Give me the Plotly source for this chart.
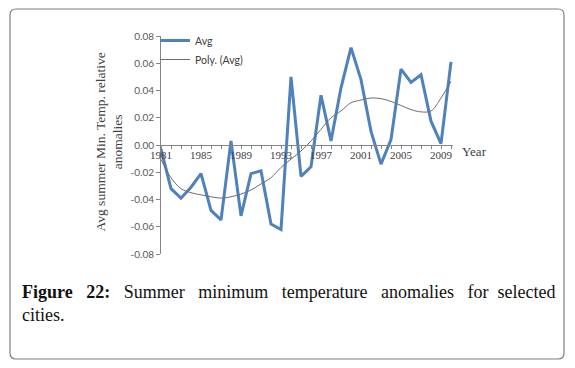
import plotly.graph_objects as go

years = list(range(1981, 2011))
avg = [-0.003, -0.032, -0.039, -0.031, -0.021, -0.048, -0.055, 0.003, -0.052, -0.021,
       -0.019, -0.058, -0.062, 0.050, -0.023, -0.016, 0.0365, 0.003, 0.042, 0.0715,
       0.048, 0.010, -0.014, 0.004, 0.0557, 0.046, 0.0516, 0.0175, 0.001, 0.061]
poly = [-0.0105, -0.024, -0.032, -0.035, -0.0366, -0.038, -0.039, -0.038, -0.036, -0.033,
        -0.0286, -0.024, -0.0165, -0.0104, -0.0044, 0.003, 0.0115, 0.020, 0.025, 0.031,
        0.033, 0.0345, 0.034, 0.032, 0.029, 0.026, 0.0243, 0.025, 0.0345, 0.0467]

y_ticks = [-0.08, -0.06, -0.04, -0.02, 0.00, 0.02, 0.04, 0.06, 0.08]
y_ticktext = ["-0.08", "-0.06", "-0.04", "-0.02", "0.00", "0.02", "0.04", "0.06", "0.08"]
x_ticks = [1981, 1985, 1989, 1993, 1997, 2001, 2005, 2009]
x_ticktext = [str(v) for v in x_ticks]

# page has an 8px body margin; figure is sized to fit the window
OFF = 8
W, H = 575 - OFF, 368 - OFF
L, R, T, B = 153, 122, 28, 114
PW = W - L - R
PH = H - T - B

def px(x):  # page pixel -> paper
    return (x - OFF - L) / PW

def py(y):  # page pixel -> paper
    return (H - B - (y - OFF)) / PH

fig = go.Figure()
fig.add_trace(go.Scatter(x=years, y=avg, mode="lines", name="Avg",
                         line=dict(color="#4f81bd", width=3)))
fig.add_trace(go.Scatter(x=years, y=poly, mode="lines", name="Poly. (Avg)",
                         line=dict(color="#6e6e6e", width=1, shape="spline")))

axis_col = "#868686"
fig.update_layout(
    width=W, height=H,
    margin=dict(l=L, r=R, t=T, b=B),
    paper_bgcolor="white", plot_bgcolor="white",
    showlegend=True,
    legend=dict(x=px(155), y=py(26), xanchor="left", yanchor="top",
                font=dict(family="Lato", size=10.5, color="#404040"),
                bgcolor="rgba(0,0,0,0)", itemwidth=30),
    xaxis=dict(range=[1981, 2010.2], showgrid=False, zeroline=False,
               showline=True, linecolor=axis_col, linewidth=1,
               anchor="free", position=0.5,
               tickvals=x_ticks, ticktext=x_ticktext,
               ticks="outside", ticklen=3, tickcolor=axis_col,
               ticklabelstandoff=-3,
               minor=dict(dtick=1, tick0=1981, ticks="outside", ticklen=3, tickcolor=axis_col),
               tickfont=dict(family="Liberation Serif", size=11, color="#404040")),
    yaxis=dict(range=[-0.08, 0.08], showgrid=False, zeroline=False,
               showline=True, linecolor=axis_col, linewidth=1,
               tickvals=y_ticks, ticktext=y_ticktext,
               ticks="outside", ticklen=4, tickcolor=axis_col,
               tickfont=dict(family="Lato", size=10, color="#595959")),
)

# Year label
fig.add_annotation(text="Year", xref="paper", yref="paper", x=px(460), y=py(151),
                   xanchor="left", yanchor="middle", showarrow=False,
                   font=dict(family="Liberation Serif", size=13, color="#404040"))
# Y axis title
fig.add_annotation(text="Avg summer Min. Temp. relative<br>anomalies", xref="paper", yref="paper",
                   x=px(108.5), y=py(142), xanchor="center", yanchor="middle", textangle=-90,
                   showarrow=False,
                   font=dict(family="Liberation Serif", size=13.5, color="#404040"))
# Caption (first line justified with extra non-breaking spaces)
g2 = " " + "\u00a0" * 2
g1 = " " + "\u00a0"
line1 = ("<b>Figure" + g2 + "22:</b>" + g2 + "Summer" + g2 + "minimum" + g2 + "temperature"
         + g2 + "anomalies" + g2 + "for" + g1 + "selected")
fig.add_annotation(text=line1 + "<br>cities.",
                   xref="paper", yref="paper", x=px(20), y=py(280), xanchor="left", yanchor="top",
                   align="left", showarrow=False,
                   font=dict(family="Liberation Serif", size=18, color="#111111"))

# Rounded border box
x0, x1, y0, y1, r = 10, 564, 9, 359, 6
def P(x, y):
    return f"{px(x):.5f},{py(y):.5f}"
path = (f"M {P(x0 + r, y0)} L {P(x1 - r, y0)} Q {P(x1, y0)} {P(x1, y0 + r)} "
        f"L {P(x1, y1 - r)} Q {P(x1, y1)} {P(x1 - r, y1)} "
        f"L {P(x0 + r, y1)} Q {P(x0, y1)} {P(x0, y1 - r)} "
        f"L {P(x0, y0 + r)} Q {P(x0, y0)} {P(x0 + r, y0)} Z")
fig.add_shape(type="path", path=path, xref="paper", yref="paper",
              line=dict(color="#7f7f7f", width=1.2))

fig.write_html("out.html")
